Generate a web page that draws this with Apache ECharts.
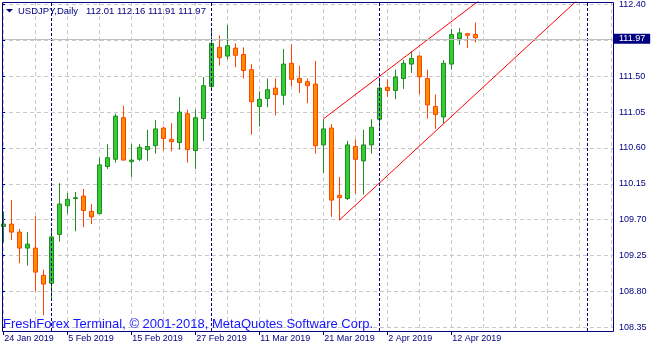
<!DOCTYPE html>
<html><head><meta charset="utf-8">
<script src="https://cdn.jsdelivr.net/npm/echarts@6/dist/echarts.min.js"></script>
<style>html,body{margin:0;padding:0;background:#fff}#c{width:653px;height:352px}</style>
</head><body><div id="c"></div>
<script>
const symbolName = 'USDJPY,Daily';
const watermark = 'FreshForex Terminal, \u00a9 2001-2018, MetaQuotes Software Corp.';
const dates = ['24 Jan 2019','25 Jan 2019','28 Jan 2019','29 Jan 2019','30 Jan 2019','31 Jan 2019',
 '1 Feb 2019','4 Feb 2019','5 Feb 2019','6 Feb 2019','7 Feb 2019','8 Feb 2019','11 Feb 2019','12 Feb 2019',
 '13 Feb 2019','14 Feb 2019','15 Feb 2019','18 Feb 2019','19 Feb 2019','20 Feb 2019','21 Feb 2019',
 '22 Feb 2019','25 Feb 2019','26 Feb 2019','27 Feb 2019','28 Feb 2019','1 Mar 2019','4 Mar 2019',
 '5 Mar 2019','6 Mar 2019','7 Mar 2019','8 Mar 2019','11 Mar 2019','12 Mar 2019','13 Mar 2019',
 '14 Mar 2019','15 Mar 2019','18 Mar 2019','19 Mar 2019','20 Mar 2019','21 Mar 2019','22 Mar 2019',
 '25 Mar 2019','26 Mar 2019','27 Mar 2019','28 Mar 2019','29 Mar 2019','1 Apr 2019','2 Apr 2019',
 '3 Apr 2019','4 Apr 2019','5 Apr 2019','8 Apr 2019','9 Apr 2019','10 Apr 2019','11 Apr 2019',
 '12 Apr 2019','15 Apr 2019','16 Apr 2019','17 Apr 2019'];
const futureDates = ['18 Apr 2019','19 Apr 2019','22 Apr 2019','23 Apr 2019','24 Apr 2019','25 Apr 2019',
 '26 Apr 2019','29 Apr 2019','30 Apr 2019','1 May 2019','2 May 2019','3 May 2019','6 May 2019',
 '7 May 2019','8 May 2019','9 May 2019','10 May 2019'];
const opens  = [109.61,109.64,109.54,109.34,109.34,109.00,108.90,109.51,109.87,109.96,109.99,109.80,109.77,110.36,110.45,110.97,110.42,110.45,110.57,110.62,
                110.84,110.70,110.66,111.02,110.56,110.96,111.36,111.85,111.74,111.84,111.76,111.57,111.11,111.21,111.34,111.25,111.65,111.46,111.42,111.39,
                110.63,110.84,110.00,109.96,110.61,110.43,110.63,110.95,111.35,111.31,111.46,111.64,111.74,111.46,111.11,110.98,111.64,111.96,112.02,112.01];
const closes = [109.64,109.54,109.34,109.39,109.04,108.89,109.48,109.89,109.95,109.97,109.81,109.73,110.38,110.47,110.99,110.44,110.44,110.60,110.61,110.83,
                110.71,110.67,111.04,110.57,110.97,111.37,111.90,111.72,111.87,111.75,111.56,111.17,111.20,111.32,111.26,111.64,111.45,111.41,111.37,110.62,
                110.83,109.94,109.97,110.63,110.45,110.63,110.85,111.34,111.31,111.48,111.65,111.71,111.48,111.13,111.01,111.65,112.01,112.03,112.00,111.97];
const lows   = [109.41,109.44,109.15,109.12,108.80,108.50,108.71,109.42,109.77,109.55,109.60,109.64,109.77,110.33,110.41,110.44,110.23,110.43,110.43,110.52,
                110.56,110.55,110.57,110.41,110.33,110.68,111.31,111.62,111.70,111.60,111.46,110.76,110.86,111.10,111.00,111.13,111.36,111.28,111.15,110.52,
                110.28,109.73,109.69,109.94,110.02,110.01,110.52,110.80,111.23,111.20,111.33,111.53,111.26,110.96,110.83,110.90,111.57,111.88,111.84,111.91];
const highs  = [109.80,109.94,109.58,109.54,109.74,109.07,109.58,110.15,110.03,110.04,110.08,109.89,110.47,110.64,111.02,111.12,110.64,110.64,110.82,110.94,
                110.86,110.90,111.23,111.07,111.07,111.48,112.07,112.00,112.13,111.90,111.85,111.64,111.30,111.46,111.46,111.83,111.89,111.62,111.46,111.68,
                110.95,110.89,110.23,110.68,110.70,110.82,110.95,111.44,111.45,111.57,111.69,111.80,111.75,111.57,111.26,111.69,112.08,112.09,112.03,112.16];
const yTickMin = 108.35, yTickMax = 112.40, yTickStep = 0.45;
const separatorIdx = [6, 26, 47, 73];
const upperTrend = [[40, 110.954], [62, 112.626]];
const lowerTrend = [[42, 109.69], [75, 112.74]];

const NAVY = '#000080';
const FONT = '"Liberation Sans", Arial, sans-serif';
const GRIDC = '#c8c8c8';
const cats = dates.concat(futureDates);
const last = opens.length - 1;
const candleData = opens.map((o, i) => [o, closes[i], lows[i], highs[i]]);
const showLbl = (i) => i % 8 === 0 && i < dates.length;
const headerVals = [opens[last], highs[last], lows[last], closes[last]].map(v => v.toFixed(2)).join(' ');

const chart = echarts.init(document.getElementById('c'), null, {renderer: 'canvas'});
chart.setOption({
  animation: false,
  backgroundColor: '#ffffff',
  grid: [
    {left: 3.3, top: 2, width: 608, height: 329},
    {left: 2, top: 3.3, width: 611, height: 324}
  ],
  xAxis: [
    {type: 'category', gridIndex: 0, data: cats, boundaryGap: false,
     axisLine: {show: false},
     axisTick: {show: true, length: 4, interval: (i) => showLbl(i), lineStyle: {color: NAVY}},
     axisLabel: {interval: (i) => showLbl(i), align: 'left', margin: 3, color: NAVY, fontFamily: FONT, fontSize: 9, padding: [0, 0, 0, 1]},
     splitLine: {show: true, interval: (i) => i % 4 === 0, lineStyle: {color: GRIDC, type: [4, 3], width: 1}}},
    {type: 'value', gridIndex: 1, min: 0, max: 1, show: false}
  ],
  yAxis: [
    {type: 'value', gridIndex: 0, min: 108.30375, max: 112.41625, show: false},
    {type: 'value', gridIndex: 1, position: 'right', min: yTickMin, max: yTickMax, interval: yTickStep,
     axisLine: {show: false},
     axisTick: {show: true, length: 3, lineStyle: {color: NAVY}},
     axisLabel: {margin: 6, color: NAVY, fontSize: 9, fontFamily: FONT, formatter: (v) => v.toFixed(2)},
     splitLine: {show: true, lineStyle: {color: GRIDC, type: [4, 3], width: 1}}}
  ],
  series: [
    {type: 'candlestick', xAxisIndex: 0, yAxisIndex: 0, data: candleData, barWidth: 4, clip: false,
     itemStyle: {color: '#32cd32', color0: '#ff8c00', borderColor: '#228b22', borderColor0: '#ff4500', borderWidth: 1},
     markLine: {silent: true, symbol: ['none', 'none'], label: {show: false}, animation: false,
       lineStyle: {color: NAVY, type: [3, 2], width: 1},
       data: separatorIdx.map(i => ({xAxis: i}))}},
    {type: 'line', xAxisIndex: 0, yAxisIndex: 0, data: upperTrend, symbol: 'none', silent: true,
     lineStyle: {color: '#ff0000', width: 1}},
    {type: 'line', xAxisIndex: 0, yAxisIndex: 0, data: lowerTrend, symbol: 'none', silent: true,
     lineStyle: {color: '#ff0000', width: 1}},
    {type: 'line', xAxisIndex: 1, yAxisIndex: 1, data: [], silent: true,
     markLine: {silent: true, symbol: ['none', 'none'], animation: false,
       lineStyle: {color: '#c0c0c0', type: 'solid', width: 1},
       label: {show: true, position: 'end', formatter: closes[last].toFixed(2), color: '#ffffff', backgroundColor: NAVY,
               padding: [1, 5, 0, 5], distance: 1, fontSize: 9, fontFamily: FONT, lineHeight: 9},
       data: [{yAxis: closes[last]}]}}
  ],
  graphic: [
    {type: 'rect', silent: true, z: 100, shape: {x: 2.5, y: 2.5, width: 611, height: 329},
     style: {fill: 'none', stroke: NAVY, lineWidth: 1}},
    {type: 'polygon', silent: true, z: 100, shape: {points: [[6, 9], [13, 9], [9.5, 12.5]]}, style: {fill: NAVY}},
    {type: 'text', silent: true, z: 100, x: 18, y: 11,
     style: {text: symbolName, fontSize: 9.5, fontFamily: FONT, fill: NAVY, verticalAlign: 'middle'}},
    {type: 'text', silent: true, z: 100, x: 86, y: 11,
     style: {text: headerVals, fontSize: 9.5, fontFamily: FONT, fill: NAVY, verticalAlign: 'middle'}},
    {type: 'text', silent: true, z: 100, x: 3, y: 324,
     style: {text: watermark, fontSize: 13, fontFamily: FONT, fill: '#1414ff', verticalAlign: 'middle'}}
  ]
});
</script>
</body></html>
